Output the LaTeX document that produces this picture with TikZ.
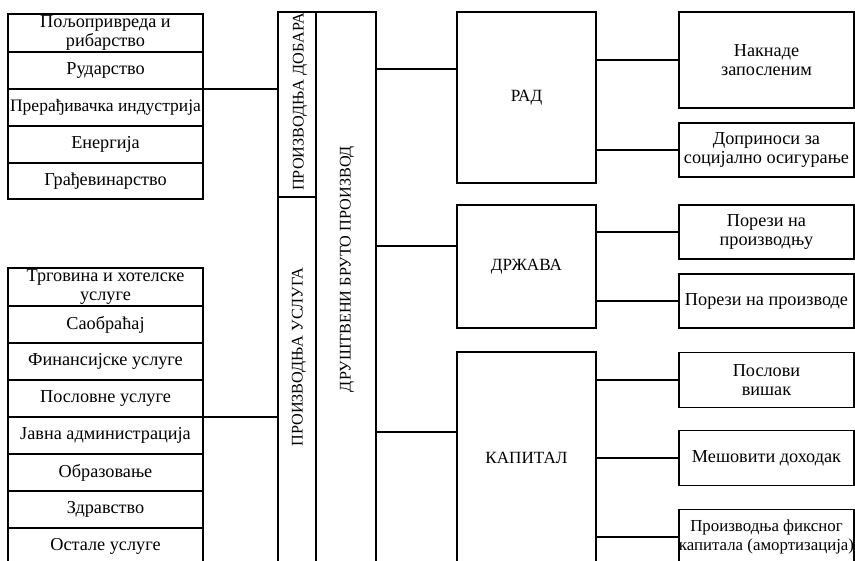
\documentclass[tikz,border=0pt]{standalone}
\usepackage{fontspec}
\setmainfont{Liberation Serif}
\begin{document}
\begin{tikzpicture}[x=1bp,y=-1bp,
  box/.style={draw, line width=1.4bp, rectangle, inner sep=0pt, outer sep=0pt, align=center,
    font=\fontsize{18.3}{19.5}\selectfont},
  capbox/.style={box, font=\fontsize{17.2}{19.5}\selectfont},
  lbl/.style={inner sep=0pt, align=center, font=\fontsize{16.3}{19.5}\selectfont},
  conn/.style={line width=1.4bp}]
\useasboundingbox (0,0) rectangle (855,561);
\fill[white] (0,0) rectangle (855,561);
\clip (0,0) rectangle (855,561);
% left: goods sectors
\node[box, minimum width=195bp, minimum height=38bp] (a1) at (105.5,33) {Пољопривреда и\\рибарство};
\node[box, minimum width=195bp, minimum height=37bp] (a2) at (105.5,70.5) {Рударство};
\node[box, minimum width=195bp, minimum height=37bp, font=\fontsize{17.6}{19.5}\selectfont] (a3) at (105.5,107.5) {Прерађивачка индустрија};
\node[box, minimum width=195bp, minimum height=37bp] (a4) at (105.5,144.5) {Енергија};
\node[box, minimum width=195bp, minimum height=36bp] (a5) at (105.5,181) {Грађевинарство};
% left: service sectors
\node[box, minimum width=195bp, minimum height=38bp] (b1) at (105.5,287) {Трговина и хотелске\\услуге};
\node[box, minimum width=195bp, minimum height=37bp] (b2) at (105.5,324.5) {Саобраћај};
\node[box, minimum width=195bp, minimum height=37bp] (b3) at (105.5,361.5) {Финансијске услуге};
\node[box, minimum width=195bp, minimum height=37bp] (b4) at (105.5,398.5) {Пословне услуге};
\node[box, minimum width=195bp, minimum height=37bp] (b5) at (105.5,435.5) {Јавна администрација};
\node[box, minimum width=195bp, minimum height=37bp] (b6) at (105.5,472.5) {Образовање};
\node[box, minimum width=195bp, minimum height=37bp] (b7) at (105.5,509.5) {Здравство};
\node[box, minimum width=195bp, minimum height=37bp] (b8) at (105.5,546.5) {Остале услуге};
% middle columns
\node[box, minimum width=38bp, minimum height=185bp] (goods) at (297,104.5) {};
\node[box, minimum width=38bp, minimum height=403bp] (serv) at (297,398.5) {};
\node[box, minimum width=60bp, minimum height=588bp] (gdp) at (346,306) {};
\node[lbl, rotate=90] (goodsl) at (300,102) {ПРОИЗВОДЊА ДОБАРА};
\node[lbl, rotate=90] (servl) at (299,357) {ПРОИЗВОДЊА УСЛУГА};
\node[lbl, rotate=90] (gdpl) at (347,269) {ДРУШТВЕНИ БРУТО ПРОИЗВОД};
% factor boxes
\node[capbox, minimum width=139bp, minimum height=171bp] (rad) at (526.5,97.5) {РАД};
\node[capbox, minimum width=139bp, minimum height=123bp] (drz) at (526.5,266.5) {ДРЖАВА};
\node[capbox, minimum width=139bp, minimum height=212bp] (kap) at (526.5,458) {КАПИТАЛ};
% right boxes
\node[box, minimum width=175bp, minimum height=96bp] (r1) at (766.5,60) {Накнаде\\запосленим};
\node[box, minimum width=175bp, minimum height=54bp] (r2) at (766.5,150) {Доприноси за\\социјално осигурање};
\node[box, minimum width=175bp, minimum height=54bp] (r3) at (766.5,232) {Порези на\\производњу};
\node[box, minimum width=175bp, minimum height=54bp] (r4) at (766.5,301) {Порези на производе};
\node[box, minimum width=175bp, minimum height=55bp] (r5) at (766.5,380) {Послови\\вишак};
\node[box, minimum width=175bp, minimum height=55bp] (r6) at (766.5,458) {Мешовити доходак};
\node[box, minimum width=175bp, minimum height=55bp, font=\fontsize{16.9}{19.5}\selectfont] (r7) at (766.5,537) {Производња фиксног\\капитала (амортизација)};
% connectors
\draw[conn] (a3.north east) -- (a3.north east -| goods.west);
\draw[conn] (b4.south east) -- (b4.south east -| serv.west);
\draw[conn] ([yshift=28.5bp]rad.west) -- ([yshift=28.5bp]rad.west -| gdp.east);
\draw[conn] ([yshift=20.5bp]drz.west) -- ([yshift=20.5bp]drz.west -| gdp.east);
\draw[conn] ([yshift=26bp]kap.west) -- ([yshift=26bp]kap.west -| gdp.east);
\draw[conn] (r1.west) -- (r1.west -| rad.east);
\draw[conn] (r2.west) -- (r2.west -| rad.east);
\draw[conn] (r3.west) -- (r3.west -| drz.east);
\draw[conn] (r4.west) -- (r4.west -| drz.east);
\draw[conn] (r5.west) -- (r5.west -| kap.east);
\draw[conn] (r6.west) -- (r6.west -| kap.east);
\draw[conn] (r7.west) -- (r7.west -| kap.east);
\end{tikzpicture}
\end{document}
